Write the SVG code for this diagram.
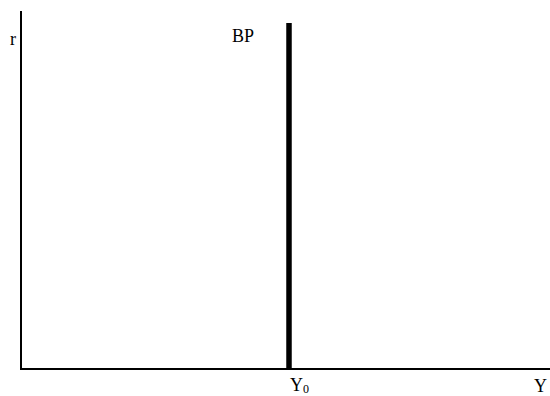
<svg xmlns="http://www.w3.org/2000/svg" width="550" height="396" viewBox="0 0 550 396">
<style>
text{font-family:"Liberation Serif","Times New Roman",serif;font-size:18px;fill:#000}
.ax{stroke:#000;stroke-width:2;fill:none}
</style>
<rect width="550" height="396" fill="#fff"/>
<g id="axes">
<line class="ax" x1="21" y1="11" x2="21" y2="369"/>
<line class="ax" x1="20" y1="369" x2="550" y2="369"/>
</g>
<g id="bp">
<line x1="289" y1="23" x2="289" y2="369" stroke="#000" stroke-width="5.5"/>
<text x="232" y="42">BP</text>
</g>
<g id="labels">
<text x="10" y="45">r</text>
<text x="290" y="391">Y<tspan font-size="12" dy="2">0</tspan></text>
<text x="534" y="392">Y</text>
</g>
</svg>
